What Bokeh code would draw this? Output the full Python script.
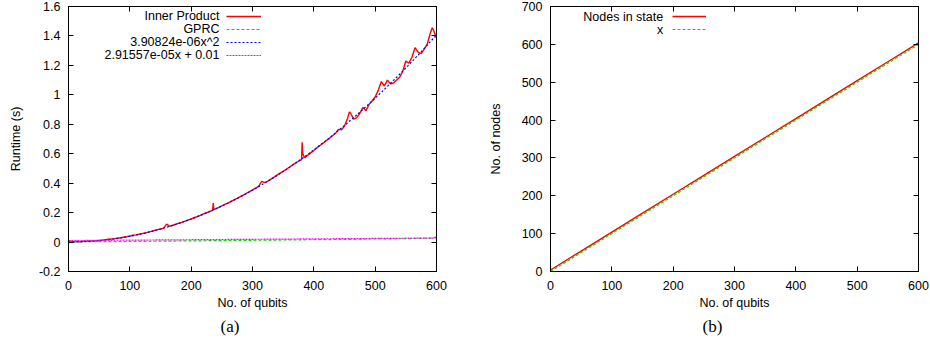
from bokeh.plotting import figure
from bokeh.layouts import row
from bokeh.models import (FixedTicker, LinearAxis, Label, Legend, LegendItem, Range1d,
                          Title, CustomLabelingPolicy)
from bokeh.embed import file_html
from bokeh.resources import INLINE

# ---------------- data: panel (a) ----------------
qubits_ip = [0, 5, 10, 15, 20, 25, 30, 35, 40, 45, 50, 55, 60, 65, 70, 75, 80, 85, 90, 95,
             100, 105, 110, 115, 120, 125, 130, 135, 140, 145, 150, 155, 160, 165, 170, 175,
             180, 185, 190, 195, 200, 205, 210, 215, 220, 225, 230, 235, 236, 237, 240, 245,
             250, 255, 260, 265, 270, 275, 280, 285, 290, 295, 300, 305, 310, 315, 320, 325,
             330, 335, 340, 345, 350, 355, 360, 365, 370, 375, 380, 381, 382, 385, 390, 395,
             400, 405, 410, 415, 420, 425, 430, 435, 440, 445, 450, 455, 458, 460, 465, 470,
             475, 480, 485, 490, 495, 500, 505, 510, 515, 520, 525, 530, 535, 540, 545, 550,
             555, 560, 565, 570, 575, 580, 585, 590, 593, 595, 600]
inner_product = [0.012, 0.004, 0.003, 0.004, 0.003, 0.005, 0.006, 0.007, 0.008, 0.009,
                 0.011, 0.013, 0.016, 0.020, 0.021, 0.023, 0.026, 0.029, 0.033, 0.036,
                 0.041, 0.046, 0.049, 0.053, 0.057, 0.062, 0.067, 0.073, 0.079, 0.084,
                 0.089, 0.095, 0.122, 0.107, 0.114, 0.121, 0.128, 0.134, 0.142, 0.150,
                 0.157, 0.165, 0.173, 0.181, 0.191, 0.199, 0.207, 0.216, 0.265, 0.220,
                 0.225, 0.236, 0.246, 0.256, 0.265, 0.276, 0.287, 0.297, 0.309, 0.319,
                 0.331, 0.342, 0.355, 0.366, 0.378, 0.412, 0.403, 0.414, 0.428, 0.441,
                 0.455, 0.468, 0.481, 0.494, 0.508, 0.522, 0.536, 0.549, 0.560, 0.678,
                 0.600, 0.572, 0.590, 0.606, 0.622, 0.640, 0.656, 0.671, 0.688, 0.703,
                 0.720, 0.737, 0.765, 0.762, 0.788, 0.840, 0.884, 0.875, 0.835, 0.845,
                 0.875, 0.915, 0.892, 0.935, 0.958, 0.985, 1.030, 1.090, 1.060, 1.100,
                 1.075, 1.080, 1.100, 1.120, 1.160, 1.230, 1.215, 1.255, 1.320, 1.290,
                 1.280, 1.310, 1.345, 1.420, 1.455, 1.440, 1.385]

qubits_gprc = [0, 50, 100, 150, 200, 250, 300, 350, 400, 450, 500, 550, 580, 590, 600]
gprc = [0.001, 0.003, 0.004, 0.006, 0.008, 0.010, 0.012, 0.014, 0.016, 0.018, 0.021,
        0.023, 0.026, 0.027, 0.033]

qubits_fit = [0, 25, 50, 75, 100, 125, 150, 175, 200, 225, 250, 275, 300, 325, 350, 375,
              400, 425, 450, 475, 500, 525, 550, 575, 600]
fit_quad = [0.0, 0.0024, 0.0098, 0.0220, 0.0391, 0.0611, 0.0879, 0.1197, 0.1563, 0.1979,
            0.2443, 0.2955, 0.3517, 0.4128, 0.4788, 0.5496, 0.6253, 0.7059, 0.7914, 0.8818,
            0.9771, 1.0772, 1.1823, 1.2922, 1.4070]

qubits_lin = [0, 600]
fit_lin = [0.01, 0.0275]

labels_a = ["Inner Product", "GPRC", "3.90824e-06x^2", "2.91557e-05x + 0.01"]
x_ticks = [0, 100, 200, 300, 400, 500, 600]
y_ticks_a = [-0.2, 0, 0.2, 0.4, 0.6, 0.8, 1, 1.2, 1.4, 1.6]
y_tick_labels_a = ["-0.2", "0", "0.2", "0.4", "0.6", "0.8", "1", "1.2", "1.4", "1.6"]

# ---------------- data: panel (b) ----------------
qubits_b = [0, 50, 100, 150, 200, 250, 300, 350, 400, 450, 500, 550, 600]
nodes_in_state = [4, 54, 104, 154, 204, 254, 304, 354, 404, 454, 504, 554, 604]
x_line = [0, 50, 100, 150, 200, 250, 300, 350, 400, 450, 500, 550, 600]
labels_b = ["Nodes in state", "x"]
y_ticks_b = [0, 100, 200, 300, 400, 500, 600, 700]

FONT = "Liberation Sans"
FS = "12.5px"
GREEN = "#00e000"


def make_fig(y_range, min_left, min_right):
    p = figure(output_backend="svg", toolbar_location=None,
               frame_width=368, frame_height=265,
               x_range=Range1d(0, 600), y_range=y_range,
               min_border_left=min_left, min_border_right=min_right,
               min_border_top=6, min_border_bottom=5)
    p.xgrid.visible = False
    p.ygrid.visible = False
    p.outline_line_color = "black"
    p.outline_line_width = 1
    p.background_fill_color = "white"
    p.border_fill_color = "white"
    return p


def style_axis(ax, ticker, label=None, overrides=None, standoff=7, label_standoff=5, show_labels=True):
    ax.ticker = FixedTicker(ticks=ticker)
    ax.major_tick_in = 5
    ax.major_tick_out = 0
    ax.minor_tick_line_color = None
    ax.axis_line_color = "black"
    ax.major_tick_line_color = "black"
    ax.major_label_text_color = "black"
    ax.major_label_text_font = FONT
    ax.major_label_text_font_size = FS
    ax.major_label_standoff = standoff
    if not show_labels:
        ax.major_label_policy = CustomLabelingPolicy(code="return []")
        ax.major_label_text_font_size = "0px"
        ax.major_label_standoff = 0
    if overrides:
        ax.major_label_overrides = overrides
    if label:
        ax.axis_label = label
        ax.axis_label_text_font = FONT
        ax.axis_label_text_font_size = FS
        ax.axis_label_text_font_style = "normal"
        ax.axis_label_text_color = "black"
        ax.axis_label_standoff = label_standoff


def add_mirror_axes(p, yt):
    top = LinearAxis()
    style_axis(top, x_ticks, show_labels=False)
    p.add_layout(top, "above")
    right = LinearAxis()
    style_axis(right, yt, show_labels=False)
    p.add_layout(right, "right")


def add_caption(p, text):
    p.add_layout(Title(text=text, align="left", offset=152,
                       text_font="Liberation Serif", text_font_size="17px",
                       text_font_style="normal", text_color="black", standoff=4), "below")


# ---------------- panel (a) ----------------
p1 = make_fig(Range1d(-0.2, 1.6), 68, 29)
style_axis(p1.xaxis[0], x_ticks, "No. of qubits", standoff=9, label_standoff=3)
style_axis(p1.yaxis[0], y_ticks_a, "Runtime (s)",
           overrides={t: s for t, s in zip(y_ticks_a, y_tick_labels_a)},
           standoff=8, label_standoff=13)
add_mirror_axes(p1, y_ticks_a)

r_ip = p1.line(qubits_ip, inner_product, line_color="#ff0000", line_width=1.4)
r_gp = p1.line(qubits_gprc, gprc, line_color=GREEN, line_width=1.2, line_dash="3 2")
r_q = p1.line(qubits_fit, fit_quad, line_color="#0000ff", line_width=1.2, line_dash="2 2")
r_l = p1.line(qubits_lin, fit_lin, line_color="#ff00ff", line_width=1.2, line_dash="2 1")

leg1 = Legend(items=[LegendItem(label=" ", renderers=[r]) for r in (r_ip, r_gp, r_q, r_l)],
              location=(158, 210), glyph_width=35, glyph_height=12, label_height=12,
              label_width=1, spacing=1, padding=0, margin=0, border_line_color=None,
              background_fill_alpha=0, label_text_font_size="9px", label_standoff=0)
p1.add_layout(leg1)
for i, t in enumerate(labels_a):
    p1.add_layout(Label(x=151, y=255.3 - 12.9 * i, x_units="screen", y_units="screen",
                        text=t, text_align="right", text_baseline="middle",
                        text_font=FONT, text_font_size=FS, text_color="black"))
add_caption(p1, "(a)")

# ---------------- panel (b) ----------------
p2 = make_fig(Range1d(0, 700), 85, 13)
style_axis(p2.xaxis[0], x_ticks, "No. of qubits", standoff=9, label_standoff=3)
style_axis(p2.yaxis[0], y_ticks_b, "No. of nodes", standoff=8, label_standoff=16)
add_mirror_axes(p2, y_ticks_b)

r_n = p2.line(qubits_b, nodes_in_state, line_color="#ff0000", line_width=1.4)
r_x = p2.line(qubits_b, x_line, line_color=GREEN, line_width=1.2, line_dash="3 2")

leg2 = Legend(items=[LegendItem(label=" ", renderers=[r]) for r in (r_n, r_x)],
              location=(122, 236), glyph_width=34, glyph_height=12, label_height=12,
              label_width=1, spacing=1, padding=0, margin=0, border_line_color=None,
              background_fill_alpha=0, label_text_font_size="9px", label_standoff=0)
p2.add_layout(leg2)
for i, t in enumerate(labels_b):
    p2.add_layout(Label(x=112.7, y=255 - 13 * i, x_units="screen", y_units="screen",
                        text=t, text_align="right", text_baseline="middle",
                        text_font=FONT, text_font_size=FS, text_color="black"))
add_caption(p2, "(b)")

layout = row(p1, p2)

open("out.html", "w").write(file_html(layout, INLINE))
